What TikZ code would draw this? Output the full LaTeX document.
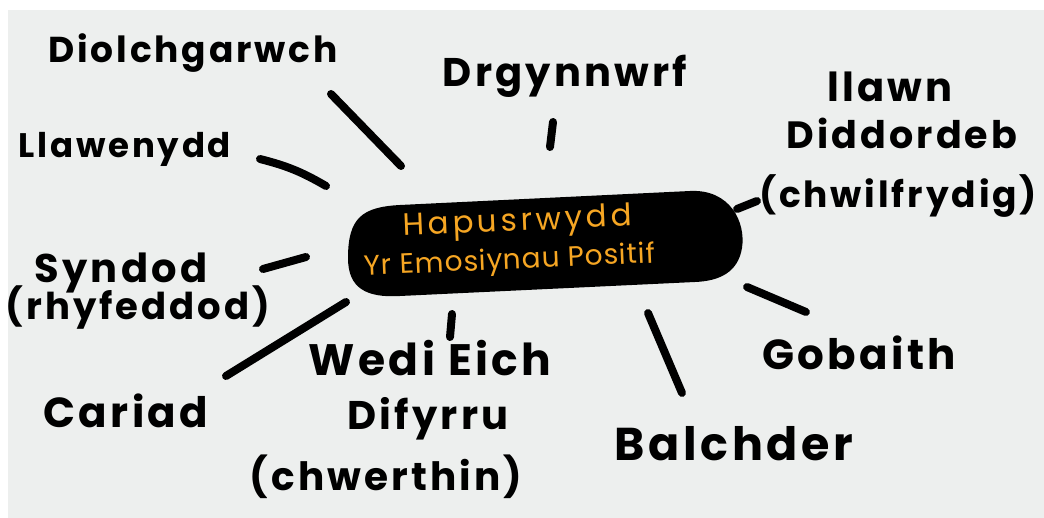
\documentclass[tikz,border=0pt]{standalone}
\usepackage{fontspec}
\setmainfont{Poppins}
\newfontfamily\penfont{Poppins}[LetterSpace=8]
\newfontfamily\hubfont{Poppins}[LetterSpace=12]
\newfontfamily\hubfontb{Poppins}[LetterSpace=3]
\definecolor{paper}{HTML}{EDEFEE}
\definecolor{marker}{HTML}{F6A623}
\begin{document}
\begin{tikzpicture}[x=1pt,y=-1pt,
  lab/.style={font=\penfont\bfseries\fontsize{#1}{#1}\selectfont, text=black, inner sep=0pt, anchor=base},
  lab/.default=40,
  hubtext/.style={text=marker, inner sep=0pt, anchor=base, rotate=2.5},
  stroke/.style={line width=8pt, line cap=round, draw=black}]
\useasboundingbox (0,0) rectangle (1044,518);
\fill[white] (0,0) rectangle (1044,518);
\fill[paper] (8,10) rectangle (1044,518);

% central blob
\fill[black] (348,258) .. controls (348,218) and (362,207) .. (400,205)
  -- (690,191) .. controls (730,189) and (746,222) .. (742,248)
  .. controls (738,272) and (720,281) .. (695,282)
  -- (400,296) .. controls (366,298) and (348,288) .. (348,258) -- cycle;
\node[hubtext, font=\hubfont\fontsize{31}{31}\selectfont] (hap) at (518,231) {Hapusrwydd};
\node[hubtext, font=\hubfontb\fontsize{28}{28}\selectfont] (pos) at (510,269) {Yr Emosiynau Positif};

% labels
\node[lab=36] (dio) at (193,63) {Diolchgarwch};
\node[lab=40] (dry) at (565,87) {Drgynnwrf};
\node[lab=34] (lla) at (125,158) {Llawenydd};
\node[lab=40] (ll1) at (890,102) {llawn};
\node[lab=38] (ll2) at (902,149) {Diddordeb};
\node[lab=36] (ll3) at (898,208) {(chwilfrydig)};
\node[lab=40] (sy1) at (121,283) {Syndod};
\node[lab=37] (sy2) at (138,320) {(rhyfeddod)};
\node[lab=42] (car) at (126,427) {Cariad};
\node[lab=44] (we1) at (430,376) {Wedi Eich};
\node[lab=40] (we2) at (428,429) {Difyrru};
\node[lab=39] (we3) at (386,490) {(chwerthin)};
\node[lab=46] (bal) at (734,460) {Balchder};
\node[lab=42] (gob) at (859,370) {Gobaith};

% connector strokes
\coordinate (dio-a) at (331,94);  \coordinate (dio-b) at (401,166);
\coordinate (lla-a) at (260,159); \coordinate (lla-b) at (326,186);
\coordinate (dry-a) at (553,122); \coordinate (dry-b) at (550,147);
\coordinate (ll-a)  at (737,209); \coordinate (ll-b)  at (757,201);
\coordinate (syn-a) at (263,269); \coordinate (syn-b) at (306,257);
\coordinate (car-a) at (226,376); \coordinate (car-b) at (346,302);
\coordinate (wed-a) at (450,337); \coordinate (wed-b) at (452,314);
\coordinate (gob-a) at (747,287); \coordinate (gob-b) at (806,312);
\coordinate (bal-a) at (648,313); \coordinate (bal-b) at (682,393);

\draw[stroke] (dio-a) -- (dio-b);
\draw[stroke] (lla-a) to[bend left=8] (lla-b);
\draw[stroke] (dry-a) -- (dry-b);
\draw[stroke] (ll-a) -- (ll-b);
\draw[stroke] (syn-a) -- (syn-b);
\draw[stroke] (car-a) -- (car-b);
\draw[stroke] (wed-a) -- (wed-b);
\draw[stroke] (gob-a) -- (gob-b);
\draw[stroke] (bal-a) -- (bal-b);
\end{tikzpicture}
\end{document}
